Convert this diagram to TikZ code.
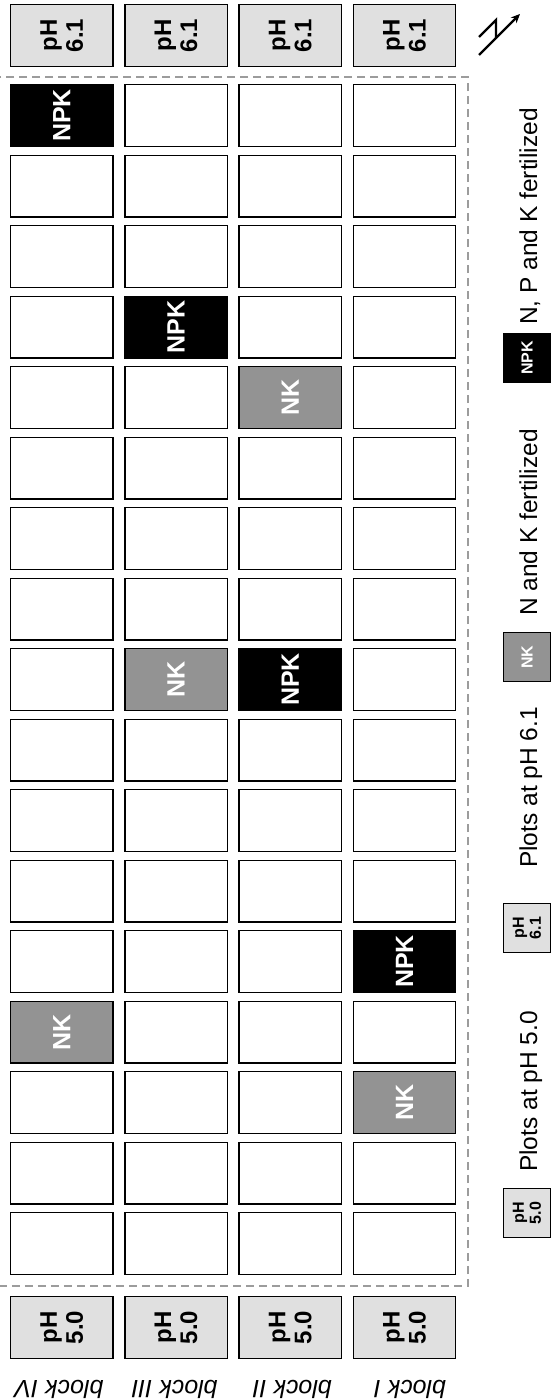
\documentclass[tikz,border=0pt]{standalone}
\usepackage{fontspec}
\setmainfont{Liberation Sans}
\usetikzlibrary{arrows.meta}
\definecolor{nkgray}{HTML}{939393}
\definecolor{phgray}{HTML}{E0E0E0}
\definecolor{dashgray}{HTML}{9C9C9C}
\tikzset{
  plotbox/.style={draw=black, line width=1.4pt, minimum width=102.3pt, minimum height=61.6pt, inner sep=0pt, fill=white},
  phbox/.style={plotbox, fill=phgray},
  phtext/.style={rotate=90, align=center, font=\fontsize{24}{26}\selectfont\bfseries, inner sep=0pt},
  treat/.style={rotate=90, text=white, font=\fontsize{25}{25}\selectfont\bfseries, inner sep=0pt},
  npk/.style={fill=black, label={[treat]center:NPK}},
  nk/.style={fill=nkgray, label={[treat]center:NK}},
  cell-1-1/.style={npk},
  cell-4-2/.style={npk},
  cell-5-3/.style={nk},
  cell-9-2/.style={nk},
  cell-9-3/.style={npk},
  cell-13-4/.style={npk},
  cell-14-1/.style={nk},
  cell-15-4/.style={nk},
  blocklab/.style={rotate=180, anchor=base west, font=\fontsize{25}{25}\selectfont\itshape, inner sep=0pt},
  legsw/.style={draw=black, line width=1.4pt, minimum width=46.6pt, minimum height=48.6pt, inner sep=0pt},
  legsmall/.style={rotate=90, align=center, font=\fontsize{16}{17}\selectfont\bfseries, inner sep=0pt},
  legtext/.style={rotate=90, anchor=base west, font=\fontsize{24.5}{25}\selectfont, inner sep=0pt},
  northline/.style={line width=2.4pt},
}
\begin{document}
\begin{tikzpicture}[x=1pt,y=-1pt]
\useasboundingbox (0,0) rectangle (550,1400);
\fill[white] (0,0) rectangle (550,1400);
\draw[dashgray, line width=1.4pt, dash pattern=on 8pt off 5pt] (-1,77) rectangle (468,1286);
\foreach \cc/\xx/\blk in {1/61.85/IV,2/176.05/III,3/290.25/II,4/404.45/I}{
  \node[phbox] (top\cc) at (\xx,35.5) {};
  \node[phtext] (topt\cc) at (top\cc) {pH\\6.1};
  \foreach \rr in {1,...,17}{
    \node[plotbox, cell-\rr-\cc/.try] (p\rr-\cc) at (\xx,{115.5+70.5*(\rr-1)}) {};
  }
  \node[phbox] (bot\cc) at (\xx,1327.5) {};
  \node[phtext] (bott\cc) at (bot\cc) {pH\\5.0};
  \node[blocklab] (blk\cc) at ({\xx+41.85},1380) {block \blk};
}
% legend
\node[legsw, fill=phgray] (sw1) at (527,1213) {};
\node[legsmall] (sw1t) at (sw1) {pH\\5.0};
\node[legtext] (lt1) at (537,1172) {Plots at pH 5.0};
\node[legsw, fill=phgray] (sw2) at (527,928) {};
\node[legsmall] (sw2t) at (sw2) {pH\\6.1};
\node[legtext] (lt2) at (537,868) {Plots at pH 6.1};
\node[legsw, fill=nkgray] (sw3) at (527,657) {};
\node[legsmall, text=white] (sw3t) at (sw3) {NK};
\node[legtext] (lt3) at (537,616) {N and K fertilized};
\node[legsw, fill=black] (sw4) at (527,358) {};
\node[legsmall, text=white] (sw4t) at (sw4) {NPK};
\node[legtext] (lt4) at (537,325) {N, P and K fertilized};
% north arrow
\coordinate (na1) at (479,37);
\coordinate (na2) at (496,20);
\coordinate (na3) at (496,38);
\coordinate (na4) at (479,55);
\coordinate (na5) at (520,14);
\draw[northline, line join=miter] (na1) -- (na2) -- (na3);
\draw[northline, -{Stealth[length=9pt,width=8pt]}] (na4) -- (na5);
\end{tikzpicture}
\end{document}
